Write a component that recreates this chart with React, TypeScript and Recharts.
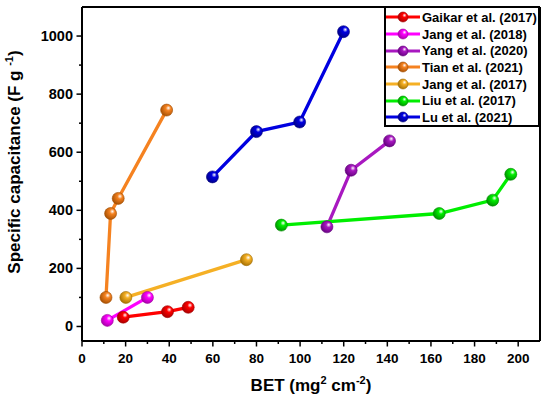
import React from 'react';
import { LineChart, Line, XAxis, YAxis, Legend, ReferenceLine } from 'recharts';

// ---- data ----
const seriesNames = [
  'Gaikar et al. (2017)',
  'Jang et al. (2018)',
  'Yang et al. (2020)',
  'Tian et al. (2021)',
  'Jang et al. (2017)',
  'Liu et al. (2017)',
  'Lu et al. (2021)',
];

const gaikarBET = [18.9, 39.2, 48.7];
const gaikarCap = [32, 51, 66];

const jang2018BET = [11.6, 30];
const jang2018Cap = [21, 100];

const yangBET = [112.3, 123.4, 141];
const yangCap = [343, 538, 639];

const tianBET = [11, 13.1, 16.6, 38.8];
const tianCap = [100, 389, 441, 745];

const jang2017BET = [20.1, 75.4];
const jang2017Cap = [100, 230];

const liuBET = [91.4, 163.8, 188.3, 196.6];
const liuCap = [349, 389, 435, 524];

const luBET = [59.8, 80, 99.8, 119.9];
const luCap = [515, 671, 704, 1015];

const xTicks = [0, 10, 20, 30, 40, 50, 60, 70, 80, 90, 100, 110, 120, 130, 140, 150, 160, 170, 180, 190, 200];
const yTicks = [0, 100, 200, 300, 400, 500, 600, 700, 800, 900, 1000];

// ---- styles ----
const colors = ['#ff0000', '#ff00ff', '#a818c0', '#f58220', '#f5b025', '#00ee00', '#0000e0'];
const darkColors = ['#a00000', '#a000a0', '#60007a', '#a04c00', '#a06c00', '#008800', '#000080'];

const build = (xs: number[], ys: number[]) => xs.map((x, i) => ({ x, y: ys[i] }));
const seriesData = [
  build(gaikarBET, gaikarCap),
  build(jang2018BET, jang2018Cap),
  build(yangBET, yangCap),
  build(tianBET, tianCap),
  build(jang2017BET, jang2017Cap),
  build(liuBET, liuCap),
  build(luBET, luCap),
];

const FONT = '"Liberation Sans", Arial, Helvetica, sans-serif';

const XTick = (props: any) => {
  const { x, y, payload } = props;
  const v = payload.value;
  const major = v % 20 === 0;
  return (
    <g>
      <line x1={x} x2={x} y1={y} y2={y + (major ? 5.5 : 3)} stroke="#000" strokeWidth={1.5} />
      {major && (
        <text x={x} y={y + 22} textAnchor="middle" fontSize={13.5} fontWeight="bold" fontFamily={FONT} fill="#000">
          {v}
        </text>
      )}
    </g>
  );
};

const YTick = (props: any) => {
  const { x, y, payload } = props;
  const v = payload.value;
  const major = v % 200 === 0;
  return (
    <g>
      <line x1={x} x2={x - (major ? 5.5 : 3)} y1={y} y2={y} stroke="#000" strokeWidth={1.5} />
      {major && (
        <text x={x - 9} y={y + 5} textAnchor="end" fontSize={14.5} fontWeight="bold" fontFamily={FONT} fill="#000">
          {v}
        </text>
      )}
    </g>
  );
};

const makeDot = (si: number) => (p: any) => {
  const { cx, cy, index } = p;
  if (cx == null || cy == null) return <g key={`d${si}-${index}`} />;
  return (
    <circle
      key={`d${si}-${index}`}
      cx={cx}
      cy={cy}
      r={6}
      fill={`url(#ball${si})`}
      stroke={darkColors[si]}
      strokeWidth={0.6}
    />
  );
};

const LegendBox = () => (
  <div
    style={{
      boxSizing: 'border-box',
      width: 156,
      height: 121,
      border: '2px solid #000',
      background: '#fff',
      paddingTop: 1,
      fontFamily: FONT,
    }}
  >
    {seriesNames.map((n, i) => (
      <div key={n} style={{ display: 'flex', alignItems: 'center', height: 16.7 }}>
        <svg width={36} height={14} style={{ flex: 'none' }}>
          <line x1={0} x2={34} y1={7} y2={7} stroke={colors[i]} strokeWidth={3} />
          <circle cx={17} cy={7} r={5} fill={`url(#ball${i})`} stroke={darkColors[i]} strokeWidth={0.6} />
        </svg>
        <span style={{ fontSize: 13, fontWeight: 'bold', color: '#000', whiteSpace: 'nowrap', marginLeft: 0 }}>{n}</span>
      </div>
    ))}
  </div>
);

export default function App() {
  return (
    <div style={{ position: 'absolute', left: 0, top: 0, width: 550, height: 400, background: '#fff' }}>
      <LineChart width={550} height={400} margin={{ top: 7, right: 10, left: 0, bottom: 0 }}>
        <defs>
          {colors.map((c, i) => (
            <radialGradient key={i} id={`ball${i}`} cx="62%" cy="38%" r="70%" fx="65%" fy="32%">
              <stop offset="0%" stopColor="#ffffff" />
              <stop offset="30%" stopColor={c} />
              <stop offset="100%" stopColor={darkColors[i]} />
            </radialGradient>
          ))}
        </defs>
        <XAxis
          type="number"
          dataKey="x"
          domain={[0, 210]}
          ticks={xTicks}
          interval={0}
          tick={<XTick />}
          tickLine={false}
          tickSize={0}
          tickMargin={0}
          height={59}
          axisLine={{ stroke: '#000', strokeWidth: 2 }}
          allowDataOverflow
        />
        <YAxis
          type="number"
          dataKey="y"
          domain={[-50, 1100]}
          ticks={yTicks}
          interval={0}
          tick={<YTick />}
          tickLine={false}
          tickSize={0}
          tickMargin={0}
          width={82}
          axisLine={{ stroke: '#000', strokeWidth: 2 }}
          allowDataOverflow
        />
        <ReferenceLine y={1100} stroke="#000" strokeWidth={2} ifOverflow="extendDomain" />
        <ReferenceLine x={210} stroke="#000" strokeWidth={2} ifOverflow="extendDomain" />
        {seriesData.map((d, i) => (
          <Line
            key={seriesNames[i]}
            data={d}
            dataKey="y"
            name={seriesNames[i]}
            type="linear"
            stroke={colors[i]}
            strokeWidth={3.3}
            dot={makeDot(i)}
            activeDot={false}
            isAnimationActive={false}
          />
        ))}
        <Legend
          layout="vertical"
          align="center"
          verticalAlign="middle"
          wrapperStyle={{ position: 'absolute', left: 384, top: 6, width: 156, height: 121 }}
          content={() => <LegendBox />}
        />
        <text
          x={311}
          y={391}
          textAnchor="middle"
          fontSize={17}
          fontWeight="bold"
          fontFamily={FONT}
          fill="#000"
        >
          BET (mg<tspan dy={-7} fontSize={11}>2</tspan>
          <tspan dy={7}> cm</tspan>
          <tspan dy={-7} fontSize={11}>-2</tspan>
          <tspan dy={7}>)</tspan>
        </text>
        <text
          x={19.5}
          y={162}
          transform="rotate(-90, 19.5, 162)"
          textAnchor="middle"
          fontSize={17}
          fontWeight="bold"
          fontFamily={FONT}
          fill="#000"
        >
          Specific capacitance (F g <tspan dy={-7} fontSize={11}>-1</tspan>
          <tspan dy={7}>)</tspan>
        </text>
      </LineChart>
    </div>
  );
}
